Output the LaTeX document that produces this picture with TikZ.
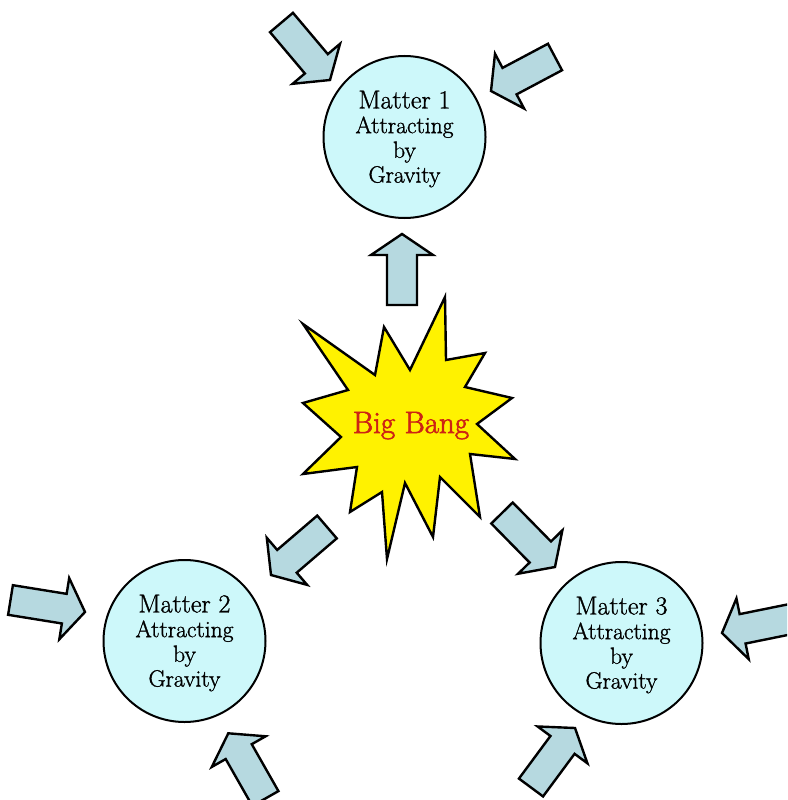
\documentclass[tikz,border=0pt]{standalone}
\usepackage{fontspec}
\newfontfamily\heavyfont{Latin Modern Roman}[FakeBold=1.2]
\newfontfamily\bangfont{Latin Modern Roman}[FakeBold=2]
\usetikzlibrary{calc}
\definecolor{circfill}{RGB}{205,248,250}
\definecolor{arrfill}{RGB}{182,217,224}
\definecolor{bangred}{RGB}{205,35,20}
\tikzset{
  matter/.style={circle, draw=black, line width=2pt, fill=circfill, minimum size=162pt,
    inner sep=0pt, align=center, font=\heavyfont\fontsize{23.5}{24.7}\selectfont},
  mtext/.style={inner sep=0pt, align=center, font=\heavyfont\fontsize{23.5}{24.7}\selectfont},
  blockarrow/.style={draw=black, line width=2.4pt, fill=arrfill, line join=miter},
  starburst/.style={draw=black, line width=2.4pt, fill=yellow, line join=miter},
  bangtext/.style={text=bangred, font=\bangfont\fontsize{31}{32}\selectfont, inner sep=0pt}
}
\newcommand\blockarrow[2]{%
  \draw[blockarrow] let \p1=(#1), \p2=(#2),
    \n1={atan2(\y2-\y1,\x2-\x1)}, \n2={veclen(\x2-\x1,\y2-\y1)-21pt} in
    ($(#1)+(\n1+90:15pt)$) -- ($(#1)+(\n1:\n2)+(\n1+90:15pt)$)
    -- ($(#1)+(\n1:\n2)+(\n1+90:31pt)$) -- (#2)
    -- ($(#1)+(\n1:\n2)+(\n1-90:31pt)$) -- ($(#1)+(\n1:\n2)+(\n1-90:15pt)$)
    -- ($(#1)+(\n1-90:15pt)$) -- cycle;}
\begin{document}
\begin{tikzpicture}[x=1pt,y=-1pt]
\useasboundingbox (0,0) rectangle (787,800);
\clip (0,0) rectangle (787,800);
% matter circles
\node[matter] (m1) at (404.5,137) {};
\node[matter] (m2) at (184.5,641) {};
\node[matter] (m3) at (621.5,643) {};
\node[mtext] (m1t) at ([yshift=-2]m1.center) {{\fontsize{26}{24.7}\selectfont Matter 1}\\Attracting\\by\\Gravity};
\node[mtext] (m2t) at ([yshift=-2]m2.center) {{\fontsize{26}{24.7}\selectfont Matter 2}\\Attracting\\by\\Gravity};
\node[mtext] (m3t) at ([yshift=-2]m3.center) {{\fontsize{26}{24.7}\selectfont Matter 3}\\Attracting\\by\\Gravity};
% big bang star
\draw[starburst] (303,324) -- (375,375) -- (384,327) -- (410,370) -- (445,297)
  -- (446,360) -- (485,353) -- (465,387) -- (512,398) -- (477,424) -- (515,459)
  -- (470,454) -- (480,517) -- (440,477) -- (433,537) -- (405,483) -- (387,559)
  -- (382,492) -- (350,512) -- (357,467) -- (303,474) -- (341,437) -- (303,403)
  -- (348,390) -- cycle;
\node[bangtext, anchor=base] (bang) at (411,433) {Big Bang};
% arrow end points
\coordinate (t1) at (281.5,22.5);  \coordinate (h1) at (330,80);
\coordinate (t2) at (555,57);      \coordinate (h2) at (491,91);
\coordinate (t3) at (402,305);     \coordinate (h3) at (402,234);
\coordinate (t4) at (327,527);     \coordinate (h4) at (271,575);
\coordinate (t5) at (10.5,600);    \coordinate (h5) at (85,612);
\coordinate (t6) at (265.4,798.5); \coordinate (h6) at (228.3,733.3);
\coordinate (t7) at (502,513);     \coordinate (h7) at (555,567);
\coordinate (t8) at (796,618);     \coordinate (h8) at (722,633);
\coordinate (t9) at (531,787.5);   \coordinate (h9) at (575,728);
\blockarrow{t1}{h1}
\blockarrow{t2}{h2}
\blockarrow{t3}{h3}
\blockarrow{t4}{h4}
\blockarrow{t5}{h5}
\blockarrow{t6}{h6}
\blockarrow{t7}{h7}
\blockarrow{t8}{h8}
\blockarrow{t9}{h9}
\end{tikzpicture}
\end{document}
